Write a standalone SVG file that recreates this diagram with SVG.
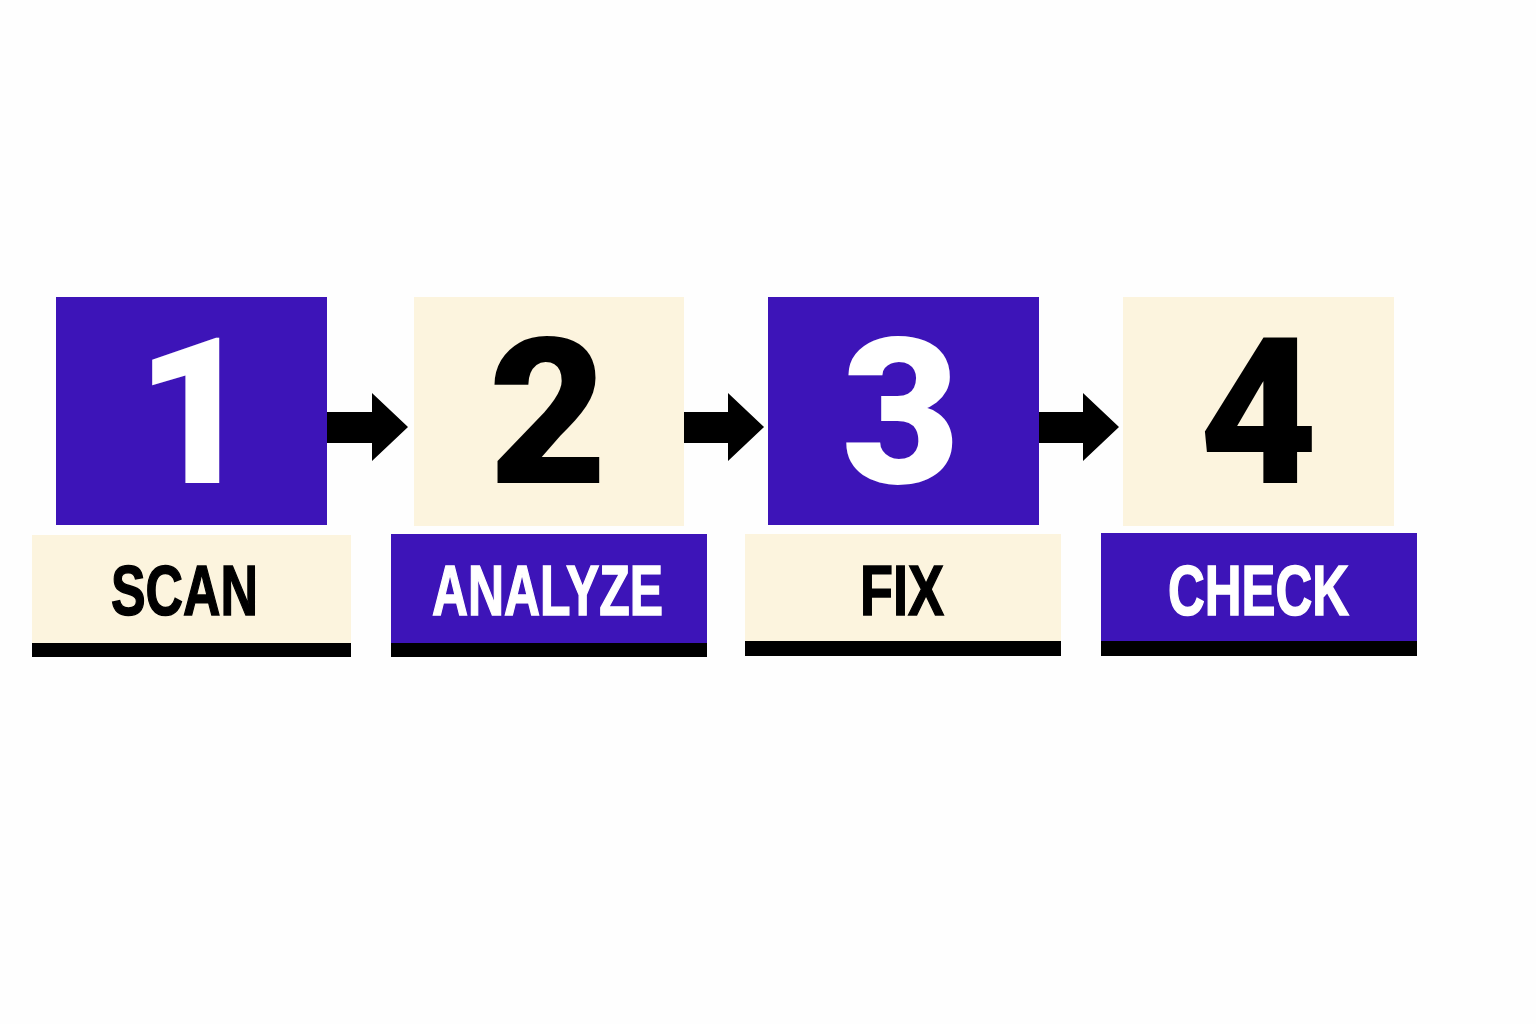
<svg xmlns="http://www.w3.org/2000/svg" width="1536" height="1024" viewBox="0 0 1536 1024">
<style>
.purple{fill:#3d14b8}
.cream{fill:#fcf4de}
.bar{fill:#000}
.num{font-family:Roboto,"Liberation Sans",Arial,sans-serif;font-weight:900;font-size:205px;text-anchor:middle}
.lbl{font-family:"Liberation Sans",Arial,sans-serif;font-weight:bold;font-size:70px;text-anchor:middle;stroke-width:1.5}
.w{fill:#fff;stroke:#fff}
.k{fill:#000;stroke:#000}
.num.w,.num.k{stroke:none}
.arrow{fill:#000}
</style>
<rect width="1536" height="1024" fill="#fefefe"/>
<g id="connectors">
<path class="arrow" d="M327 412 H372 V393 L408 427 L372 461 V443 H327 Z"/>
<path class="arrow" d="M684 412 H728 V393 L764 427 L728 461 V443 H684 Z"/>
<path class="arrow" d="M1039 412 H1083 V393 L1119 427 L1083 461 V443 H1039 Z"/>
</g>
<g id="step1">
<rect class="purple" x="56" y="297" width="271" height="228"/>
<text class="num w" x="195" y="483">1</text>
<rect class="cream" x="32" y="535" width="319" height="108"/>
<rect class="bar" x="32" y="643" width="319" height="14"/>
<text class="lbl k" x="184.5" y="615" textLength="147" lengthAdjust="spacingAndGlyphs">SCAN</text>
</g>
<g id="step2">
<rect class="cream" x="414" y="297" width="270" height="229"/>
<text class="num k" x="548" y="483">2</text>
<rect class="purple" x="391" y="534" width="316" height="109"/>
<rect class="bar" x="391" y="643" width="316" height="14"/>
<text class="lbl w" x="547.5" y="615" textLength="231" lengthAdjust="spacingAndGlyphs">ANALYZE</text>
</g>
<g id="step3">
<rect class="purple" x="768" y="297" width="271" height="228"/>
<text class="num w" x="901" y="483">3</text>
<rect class="cream" x="745" y="534" width="316" height="107"/>
<rect class="bar" x="745" y="641" width="316" height="15"/>
<text class="lbl k" x="902" y="615" textLength="84" lengthAdjust="spacingAndGlyphs">FIX</text>
</g>
<g id="step4">
<rect class="cream" x="1123" y="297" width="271" height="229"/>
<text class="num k" x="1258.5" y="483">4</text>
<rect class="purple" x="1101" y="533" width="316" height="108"/>
<rect class="bar" x="1101" y="641" width="316" height="15"/>
<text class="lbl w" x="1258.5" y="615" textLength="181" lengthAdjust="spacingAndGlyphs">CHECK</text>
</g>
</svg>
